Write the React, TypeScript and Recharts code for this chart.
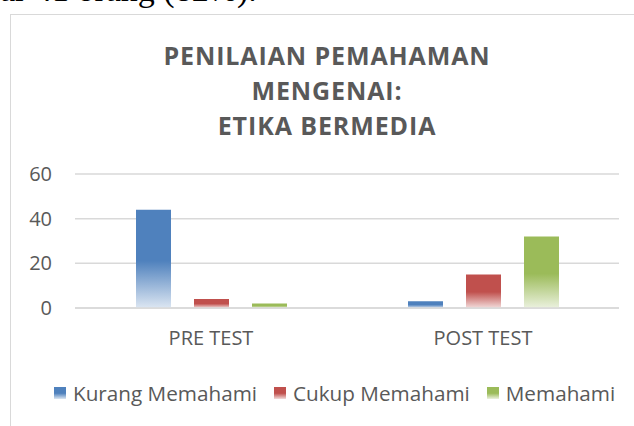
import React from 'react'
import { BarChart, Bar, XAxis, YAxis, CartesianGrid, Legend } from 'recharts'

const categories = ['PRE TEST', 'POST TEST']
const kurangMemahami = [44, 3]
const cukupMemahami = [4, 15]
const memahami = [2, 32]
const yTicks = [0, 20, 40, 60]

const series = [
  { key: 'kurang', name: 'Kurang Memahami', values: kurangMemahami, color: '#4f81bd', light: '#dce6f2' },
  { key: 'cukup', name: 'Cukup Memahami', values: cukupMemahami, color: '#c0504d', light: '#f2dcdb' },
  { key: 'paham', name: 'Memahami', values: memahami, color: '#9bbb59', light: '#ebf1de' },
]

const data = categories.map((c, i) => {
  const row: Record<string, string | number> = { name: c }
  series.forEach((s) => {
    row[s.key] = s.values[i]
  })
  return row
})

const textGray = '#595959'
const gridGray = '#d9d9d9'

function LegendContent(): JSX.Element {
  return (
    <div style={{ height: 68, paddingTop: 25, boxSizing: 'border-box', display: 'flex', paddingLeft: 54, whiteSpace: 'nowrap', width: 640 }}>
      {series.map((s) => (
        <div key={s.key} style={{ display: 'flex', alignItems: 'center', marginRight: 17, height: 20, flexShrink: 0 }}>
          <svg width="12" height="12" style={{ marginRight: 7, flexShrink: 0 }}>
            <rect x="0" y="0" width="12" height="12" fill={`url(#grad-${s.key})`} />
          </svg>
          <span style={{ fontFamily: '"Open Sans", sans-serif', fontSize: 20.7, color: textGray, lineHeight: '20px' }}>{s.name}</span>
        </div>
      ))}
    </div>
  )
}

export default function App(): JSX.Element {
  return (
    <div style={{ position: 'absolute', left: 0, top: 0, width: 634, height: 426, overflow: 'hidden', background: '#fff' }}>
      <svg width="634" height="426" style={{ position: 'absolute', left: 0, top: 0 }}>
        <defs>
          {series.map((s) => (
            <linearGradient key={s.key} id={`grad-${s.key}`} x1="0" y1="0" x2="0" y2="1">
              <stop offset="0" stopColor={s.color} />
              <stop offset="0.52" stopColor={s.color} />
              <stop offset="1" stopColor={s.light} />
            </linearGradient>
          ))}
        </defs>
        <text x={0} y={1} fontFamily='"Liberation Serif", serif' fontSize={34} fill="#000">
          ar 41 orang (82%).
        </text>
      </svg>
      <div style={{ position: 'absolute', left: 10, top: 14, width: 660, height: 460, border: `1px solid ${gridGray}`, boxSizing: 'border-box' }} />
      <div
        style={{
          position: 'absolute',
          left: 0,
          top: 38,
          width: 654,
          textAlign: 'center',
          fontFamily: '"Open Sans", sans-serif',
          fontWeight: 700,
          fontSize: 25,
          lineHeight: '35px',
          color: textGray,
          letterSpacing: 0.9,
        }}
      >
        PENILAIAN PEMAHAMAN
        <br />
        MENGENAI:
        <br />
        ETIKA BERMEDIA
      </div>
      <div style={{ position: 'absolute', left: 0, top: 0 }}>
        <BarChart
          width={634}
          height={426}
          data={data}
          margin={{ top: 174, right: 15, bottom: 0, left: 0 }}
          barSize={35}
          barGap={23}
        >
          <CartesianGrid vertical={false} stroke={gridGray} strokeWidth={1.5} />
          <XAxis
            dataKey="name"
            axisLine={{ stroke: gridGray, strokeWidth: 1.5 }}
            tickLine={false}
            tickSize={6}
            tickMargin={17}
            height={50}
            tick={{ fill: textGray, fontSize: 20, fontFamily: '"Open Sans", sans-serif' }}
          />
          <YAxis
            domain={[0, 60]}
            ticks={yTicks}
            axisLine={false}
            tickLine={false}
            width={75}
            tickSize={0}
            tickMargin={23}
            tick={{ fill: textGray, fontSize: 20, fontFamily: '"Open Sans", sans-serif' }}
          />
          <Legend verticalAlign="bottom" height={68} content={() => <LegendContent />} />
          {series.map((s) => (
            <Bar key={s.key} dataKey={s.key} name={s.name} fill={`url(#grad-${s.key})`} isAnimationActive={false} />
          ))}
        </BarChart>
      </div>
    </div>
  )
}
